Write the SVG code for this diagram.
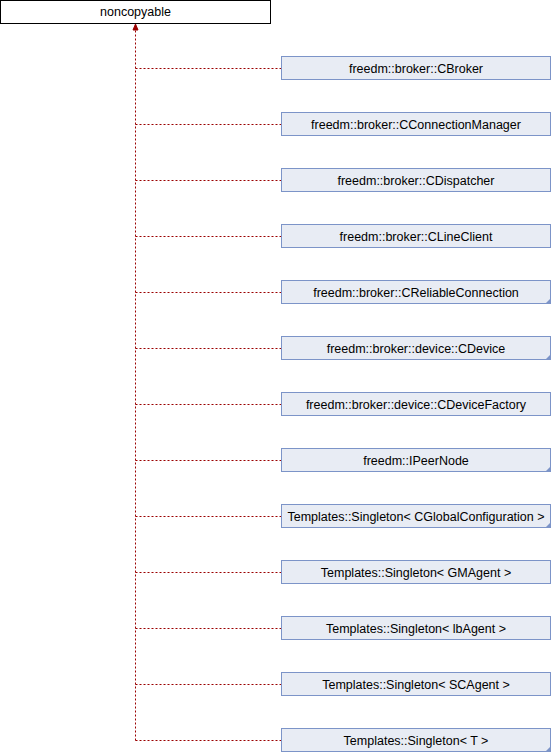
<svg xmlns="http://www.w3.org/2000/svg" width="552" height="752" viewBox="0 0 552 752">
<style>
.n rect{fill:#e8ecf4;stroke:#7c94c8;stroke-width:1}
.n text,.lbl{font-family:"Liberation Sans",Arial,sans-serif;font-size:12.5px;fill:#000;text-anchor:middle}
.t{fill:#7c94c8;stroke:none}
.c line{stroke:#9a0000;stroke-width:1;fill:none;stroke-dasharray:2,2}
</style>
<rect width="552" height="752" fill="#fff"/>
<g id="noncopyable">
<rect x="0.5" y="0.5" width="270" height="23" fill="#fff" stroke="#000"/>
<text class="lbl" x="135.5" y="16">noncopyable</text>
</g>
<g class="c" id="connectors">
<line x1="135.5" y1="740.5" x2="135.5" y2="30"/>
<path d="M133,30 L135.5,24 L138,30 Z" fill="#9a0000" stroke="#9a0000"/>
<line x1="135.5" y1="68.5" x2="281" y2="68.5"/>
<line x1="135.5" y1="124.5" x2="281" y2="124.5"/>
<line x1="135.5" y1="180.5" x2="281" y2="180.5"/>
<line x1="135.5" y1="236.5" x2="281" y2="236.5"/>
<line x1="135.5" y1="292.5" x2="281" y2="292.5"/>
<line x1="135.5" y1="348.5" x2="281" y2="348.5"/>
<line x1="135.5" y1="404.5" x2="281" y2="404.5"/>
<line x1="135.5" y1="460.5" x2="281" y2="460.5"/>
<line x1="135.5" y1="516.5" x2="281" y2="516.5"/>
<line x1="135.5" y1="572.5" x2="281" y2="572.5"/>
<line x1="135.5" y1="628.5" x2="281" y2="628.5"/>
<line x1="135.5" y1="684.5" x2="281" y2="684.5"/>
<line x1="135.5" y1="740.5" x2="281" y2="740.5"/>
</g>
<g class="n" id="CBroker"><rect x="281.5" y="56.5" width="269" height="23"/><text x="416" y="72.5">freedm::broker::CBroker</text></g>
<g class="n" id="CConnectionManager"><rect x="281.5" y="112.5" width="269" height="23"/><text x="416" y="128.5">freedm::broker::CConnectionManager</text></g>
<g class="n" id="CDispatcher"><rect x="281.5" y="168.5" width="269" height="23"/><text x="416" y="184.5">freedm::broker::CDispatcher</text></g>
<g class="n" id="CLineClient"><rect x="281.5" y="224.5" width="269" height="23"/><text x="416" y="240.5">freedm::broker::CLineClient</text></g>
<g class="n" id="CReliableConnection"><rect x="281.5" y="280.5" width="269" height="23"/><text x="416" y="296.5">freedm::broker::CReliableConnection</text><path class="t" d="M551,298 L551,304 L545,304 Z"/></g>
<g class="n" id="CDevice"><rect x="281.5" y="336.5" width="269" height="23"/><text x="416" y="352.5">freedm::broker::device::CDevice</text><path class="t" d="M551,354 L551,360 L545,360 Z"/></g>
<g class="n" id="CDeviceFactory"><rect x="281.5" y="392.5" width="269" height="23"/><text x="416" y="408.5">freedm::broker::device::CDeviceFactory</text></g>
<g class="n" id="IPeerNode"><rect x="281.5" y="448.5" width="269" height="23"/><text x="416" y="464.5">freedm::IPeerNode</text><path class="t" d="M551,466 L551,472 L545,472 Z"/></g>
<g class="n" id="SingletonCGlobalConfiguration"><rect x="281.5" y="504.5" width="269" height="23"/><text x="416" y="520.5">Templates::Singleton&lt; CGlobalConfiguration &gt;</text><path class="t" d="M551,522 L551,528 L545,528 Z"/></g>
<g class="n" id="SingletonGMAgent"><rect x="281.5" y="560.5" width="269" height="23"/><text x="416" y="576.5">Templates::Singleton&lt; GMAgent &gt;</text></g>
<g class="n" id="SingletonLbAgent"><rect x="281.5" y="616.5" width="269" height="23"/><text x="416" y="632.5">Templates::Singleton&lt; lbAgent &gt;</text></g>
<g class="n" id="SingletonSCAgent"><rect x="281.5" y="672.5" width="269" height="23"/><text x="416" y="688.5">Templates::Singleton&lt; SCAgent &gt;</text></g>
<g class="n" id="SingletonT"><rect x="281.5" y="728.5" width="269" height="23"/><text x="416" y="744.5">Templates::Singleton&lt; T &gt;</text><path class="t" d="M551,746 L551,752 L545,752 Z"/></g>
</svg>
